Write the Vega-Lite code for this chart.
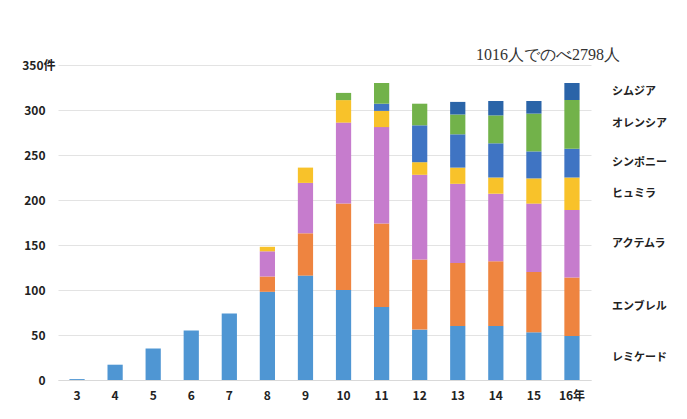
{
  "$schema": "https://vega.github.io/schema/vega-lite/v6.json",
  "width": 533,
  "height": 315,
  "autosize": "none",
  "padding": {"left": 58, "top": 65, "right": 96, "bottom": 39},
  "background": "white",
  "config": {"view": {"stroke": null}, "font": "Noto Sans CJK JP"},
  "title": {"text": "1016人でのべ2798人", "anchor": "end", "frame": "group", "font": "Liberation Serif", "fontSize": 16, "fontWeight": "normal", "color": "#333333", "dx": 29, "dy": 7, "offset": 3},
  "data": {"values": [
    {"year": 3, "drug": "レミケード", "k": 1, "count": 1},
    {"year": 4, "drug": "レミケード", "k": 1, "count": 17},
    {"year": 5, "drug": "レミケード", "k": 1, "count": 35},
    {"year": 6, "drug": "レミケード", "k": 1, "count": 55},
    {"year": 7, "drug": "レミケード", "k": 1, "count": 74},
    {"year": 8, "drug": "レミケード", "k": 1, "count": 98},
    {"year": 8, "drug": "エンブレル", "k": 2, "count": 17},
    {"year": 8, "drug": "アクテムラ", "k": 3, "count": 28},
    {"year": 8, "drug": "ヒュミラ", "k": 4, "count": 5},
    {"year": 9, "drug": "レミケード", "k": 1, "count": 116},
    {"year": 9, "drug": "エンブレル", "k": 2, "count": 47},
    {"year": 9, "drug": "アクテムラ", "k": 3, "count": 56},
    {"year": 9, "drug": "ヒュミラ", "k": 4, "count": 17},
    {"year": 10, "drug": "レミケード", "k": 1, "count": 100},
    {"year": 10, "drug": "エンブレル", "k": 2, "count": 96},
    {"year": 10, "drug": "アクテムラ", "k": 3, "count": 90},
    {"year": 10, "drug": "ヒュミラ", "k": 4, "count": 25},
    {"year": 10, "drug": "オレンシア", "k": 6, "count": 8},
    {"year": 11, "drug": "レミケード", "k": 1, "count": 81},
    {"year": 11, "drug": "エンブレル", "k": 2, "count": 93},
    {"year": 11, "drug": "アクテムラ", "k": 3, "count": 107},
    {"year": 11, "drug": "ヒュミラ", "k": 4, "count": 18},
    {"year": 11, "drug": "シンポニー", "k": 5, "count": 8},
    {"year": 11, "drug": "オレンシア", "k": 6, "count": 23},
    {"year": 12, "drug": "レミケード", "k": 1, "count": 56},
    {"year": 12, "drug": "エンブレル", "k": 2, "count": 78},
    {"year": 12, "drug": "アクテムラ", "k": 3, "count": 94},
    {"year": 12, "drug": "ヒュミラ", "k": 4, "count": 14},
    {"year": 12, "drug": "シンポニー", "k": 5, "count": 41},
    {"year": 12, "drug": "オレンシア", "k": 6, "count": 24},
    {"year": 13, "drug": "レミケード", "k": 1, "count": 60},
    {"year": 13, "drug": "エンブレル", "k": 2, "count": 70},
    {"year": 13, "drug": "アクテムラ", "k": 3, "count": 88},
    {"year": 13, "drug": "ヒュミラ", "k": 4, "count": 18},
    {"year": 13, "drug": "シンポニー", "k": 5, "count": 37},
    {"year": 13, "drug": "オレンシア", "k": 6, "count": 22},
    {"year": 13, "drug": "シムジア", "k": 7, "count": 14},
    {"year": 14, "drug": "レミケード", "k": 1, "count": 60},
    {"year": 14, "drug": "エンブレル", "k": 2, "count": 72},
    {"year": 14, "drug": "アクテムラ", "k": 3, "count": 75},
    {"year": 14, "drug": "ヒュミラ", "k": 4, "count": 18},
    {"year": 14, "drug": "シンポニー", "k": 5, "count": 38},
    {"year": 14, "drug": "オレンシア", "k": 6, "count": 31},
    {"year": 14, "drug": "シムジア", "k": 7, "count": 16},
    {"year": 15, "drug": "レミケード", "k": 1, "count": 53},
    {"year": 15, "drug": "エンブレル", "k": 2, "count": 67},
    {"year": 15, "drug": "アクテムラ", "k": 3, "count": 76},
    {"year": 15, "drug": "ヒュミラ", "k": 4, "count": 28},
    {"year": 15, "drug": "シンポニー", "k": 5, "count": 30},
    {"year": 15, "drug": "オレンシア", "k": 6, "count": 42},
    {"year": 15, "drug": "シムジア", "k": 7, "count": 14},
    {"year": 16, "drug": "レミケード", "k": 1, "count": 49},
    {"year": 16, "drug": "エンブレル", "k": 2, "count": 65},
    {"year": 16, "drug": "アクテムラ", "k": 3, "count": 75},
    {"year": 16, "drug": "ヒュミラ", "k": 4, "count": 36},
    {"year": 16, "drug": "シンポニー", "k": 5, "count": 32},
    {"year": 16, "drug": "オレンシア", "k": 6, "count": 54},
    {"year": 16, "drug": "シムジア", "k": 7, "count": 19}
  ]},
  "layer": [
    {
      "mark": {"type": "bar"},
      "encoding": {
        "x": {
          "field": "year", "type": "ordinal",
          "scale": {"paddingInner": 0.6, "paddingOuter": 0.3},
          "axis": {"title": null, "labelAngle": 0, "ticks": false, "domainColor": "#d9d9d9", "labelPadding": 10, "labelFontSize": 12, "labelFontWeight": "bold", "labelColor": "#222222", "labelExpr": "datum.value == 16 ? '16年' : datum.label"}
        },
        "y": {
          "field": "count", "type": "quantitative", "stack": "zero",
          "scale": {"domain": [0, 350]},
          "axis": {"title": null, "values": [0, 50, 100, 150, 200, 250, 300, 350], "domain": false, "ticks": false, "gridColor": "#e3e3e3", "labelFontSize": 12, "labelFontWeight": "bold", "labelColor": "#222222", "labelPadding": {"condition": {"test": "datum.value == 350", "value": 3}, "value": 13}, "labelExpr": "datum.value == 350 ? '350件' : datum.label"}
        },
        "color": {
          "field": "drug", "type": "nominal", "legend": null,
          "scale": {
            "domain": ["レミケード", "エンブレル", "アクテムラ", "ヒュミラ", "シンポニー", "オレンシア", "シムジア"],
            "range": ["#4f96d3", "#ee8440", "#c67ccd", "#f8c22a", "#3f74c3", "#72b24a", "#2a64a8"]
          }
        },
        "order": {"field": "k", "type": "quantitative"}
      }
    },
    {
      "transform": [
        {"filter": "datum.year == 16"},
        {"stack": "count", "groupby": ["year"], "sort": [{"field": "k"}], "as": ["v0", "v1"]},
        {"fold": ["v0", "v1"], "as": ["key", "vv"]},
        {"aggregate": [{"op": "mean", "field": "vv", "as": "mid"}], "groupby": ["year", "drug"]}
      ],
      "mark": {"type": "text", "align": "left", "baseline": "middle", "dx": 40, "fontSize": 11, "fontWeight": "bold", "color": "#222222"},
      "encoding": {
        "x": {"field": "year", "type": "ordinal"},
        "y": {"field": "mid", "type": "quantitative"},
        "text": {"field": "drug"}
      }
    }
  ]
}
